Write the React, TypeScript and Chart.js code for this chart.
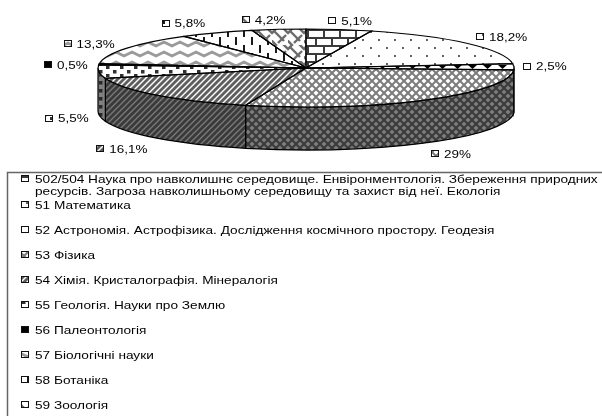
import React, { useEffect, useRef } from "react";
import { Chart, registerables } from "chart.js";

Chart.register(...registerables);

const categories = [
  "502/504 Наука про навколишнє середовище. Енвіронментологія. Збереження природних\nресурсів. Загроза навколишньому середовищу та захист від неї. Екологія",
  "51 Математика",
  "52 Астрономія. Астрофізика. Дослідження космічного простору. Геодезія",
  "53 Фізика",
  "54 Хімія. Кристалографія. Мінералогія",
  "55 Геологія. Науки про Землю",
  "56 Палеонтологія",
  "57 Біологічні науки",
  "58 Ботаніка",
  "59 Зоологія",
];
const shares = [5.1, 18.2, 2.5, 29, 16.1, 5.5, 0.5, 13.3, 5.8, 4.2];
const hatchKinds = ["brick", "dots", "tri", "diamond", "diag", "squares", "solid", "wave", "dash", "weave"];
const labelNudgeX = [11, 34, 31, 25, -35, -32, -33, -37, -33, -15];
const labelNudgeY = [-8.5, -6, 0, 11, 11, 4, 1, -4, -9, -9];

const SQUASH = 39 / 208;
const FACE_Y = 68;
const DEPTH = 43;
const FONT = '"Liberation Sans", Arial, sans-serif';

function tile(kind: string, fg: string, bg: string): HTMLCanvasElement {
  const sizes: Record<string, [number, number]> = {
    brick: [16, 16], dots: [16, 16], tri: [15, 20], diamond: [8, 8], diag: [6, 6],
    squares: [14, 8], solid: [4, 4], wave: [16, 10], dash: [16, 16], weave: [16, 16],
  };
  const [w, h] = sizes[kind];
  const c = document.createElement("canvas");
  c.width = w;
  c.height = h;
  const x = c.getContext("2d")!;
  x.fillStyle = bg;
  x.fillRect(0, 0, w, h);
  x.fillStyle = fg;
  x.strokeStyle = fg;
  const seg = (pts: number[][], lw: number) => {
    x.lineWidth = lw;
    x.beginPath();
    pts.forEach((p, i) => (i ? x.lineTo(p[0], p[1]) : x.moveTo(p[0], p[1])));
    x.stroke();
  };
  if (kind === "brick") {
    x.fillRect(0, 0, 16, 2);
    x.fillRect(0, 8, 16, 2);
    x.fillRect(3, 0, 2, 8);
    x.fillRect(11, 8, 2, 8);
  } else if (kind === "dots") {
    x.fillRect(2, 2, 2, 2);
    x.fillRect(10, 10, 2, 2);
  } else if (kind === "tri") {
    x.beginPath();
    x.moveTo(3, 16);
    x.lineTo(12, 16);
    x.lineTo(7.5, 20);
    x.closePath();
    x.fill();
  } else if (kind === "diamond") {
    seg([[-1, 9], [9, -1]], 2);
    seg([[-1, -1], [9, 9]], 2);
    seg([[3, 13], [13, 3]], 2);
    seg([[-5, 3], [3, -5]], 2);
    seg([[3, -5], [13, 5]], 2);
    seg([[-5, 3], [5, 13]], 2);
  } else if (kind === "diag") {
    seg([[-1, 7], [7, -1]], 2.8);
    seg([[-4, 4], [4, -4]], 2.8);
    seg([[2, 10], [10, 2]], 2.8);
  } else if (kind === "squares") {
    x.fillRect(1, 1, 3.5, 3.5);
    x.fillRect(8, 5, 3.5, 3);
  } else if (kind === "wave") {
    seg([[-4, 7], [0, 5], [4, 3], [8, 5], [12, 7], [16, 5], [20, 3]], 2.8);
  } else if (kind === "dash") {
    x.fillRect(3, 0, 2, 8);
    x.fillRect(11, 8, 2, 8);
  } else if (kind === "weave") {
    seg([[-2, 6], [6, -2]], 2.4);
    seg([[6, 14], [14, 6]], 2.4);
    seg([[2, 2], [12, 12]], 2.4);
    seg([[10, -2], [18, 6]], 2.4);
    seg([[-2, 10], [6, 18]], 2.4);
  }
  return c;
}

const faceInk: Record<string, [string, string]> = {
  brick: ["#3a3a3a", "#ffffff"], dots: ["#606060", "#ffffff"], tri: ["#000000", "#ffffff"],
  diamond: ["#7c7c7c", "#ffffff"], diag: ["#5e5e5e", "#ffffff"], squares: ["#303030", "#ffffff"],
  solid: ["#000000", "#000000"], wave: ["#9a9a9a", "#ffffff"], dash: ["#1a1a1a", "#ffffff"], weave: ["#6c6c6c", "#ffffff"],
};
const wallInk: Record<string, [string, string]> = {
  tri: ["#000000", "#808080"], diamond: ["#3a3a3a", "#7c7c7c"], diag: ["#3a3a3a", "#787878"],
  squares: ["#2a2a2a", "#808080"],
};

function drawStretched(ctx: CanvasRenderingContext2D, text: string, x: number, y: number, font: string, sx: number) {
  ctx.save();
  ctx.font = font;
  ctx.textBaseline = "middle";
  ctx.textAlign = "left";
  ctx.fillStyle = "#000000";
  ctx.translate(x, y);
  ctx.scale(sx, 1);
  ctx.fillText(text, 0, 0);
  ctx.restore();
}

function swatch(ctx: CanvasRenderingContext2D, kind: string, x: number, y: number, w: number, h: number) {
  const [fg, bg] = faceInk[kind];
  ctx.save();
  ctx.fillStyle = ctx.createPattern(tile(kind, fg, bg), "repeat")!;
  ctx.fillRect(x, y, w, h);
  ctx.strokeStyle = "#111";
  ctx.lineWidth = 1;
  ctx.strokeRect(x + 0.5, y + 0.5, w - 1, h - 1);
  ctx.restore();
}

const pie3d = {
  id: "pie3d",
  beforeDatasetsDraw(chart: any) {
    const ctx: CanvasRenderingContext2D = chart.ctx;
    const arcs = chart.getDatasetMeta(0).data;
    ctx.save();
    arcs.forEach((a: any, i: number) => {
      const s = Math.max(a.startAngle, 0);
      const e = Math.min(a.endAngle, Math.PI);
      if (s >= e) return;
      const rx = a.outerRadius;
      const ry = rx * SQUASH;
      const kind = hatchKinds[i];
      const [fg, bg] = wallInk[kind] || faceInk[kind];
      ctx.beginPath();
      ctx.ellipse(a.x, FACE_Y, rx, ry, 0, s, e);
      ctx.ellipse(a.x, FACE_Y + DEPTH, rx, ry, 0, e, s, true);
      ctx.closePath();
      ctx.fillStyle = ctx.createPattern(tile(kind, fg, bg), "repeat")!;
      ctx.fill();
      ctx.strokeStyle = "#000";
      ctx.lineWidth = 1.2;
      ctx.stroke();
    });
    ctx.restore();
    ctx.save();
    const cy = arcs[0].y;
    ctx.translate(0, FACE_Y);
    ctx.scale(1, SQUASH);
    ctx.translate(0, -cy);
  },
  afterDatasetsDraw(chart: any) {
    const ctx: CanvasRenderingContext2D = chart.ctx;
    ctx.restore();
    const arcs = chart.getDatasetMeta(0).data;
    ctx.save();
    ctx.strokeStyle = "#000";
    ctx.lineWidth = 1.2;
    arcs.forEach((a: any) => {
      const rx = a.outerRadius;
      ctx.beginPath();
      ctx.moveTo(a.x, FACE_Y);
      ctx.ellipse(a.x, FACE_Y, rx, rx * SQUASH, 0, a.startAngle, a.endAngle);
      ctx.closePath();
      ctx.stroke();
    });
    ctx.restore();

    arcs.forEach((a: any, i: number) => {
      const m = (a.startAngle + a.endAngle) / 2;
      const rx = a.outerRadius;
      const front = Math.sin(m) > 0 ? DEPTH : 0;
      const lx = a.x + Math.cos(m) * rx + labelNudgeX[i];
      const ly = FACE_Y + Math.sin(m) * rx * SQUASH + front + labelNudgeY[i];
      const text = String(shares[i]).replace(".", ",") + "%";
      const font = `11.5px ${FONT}`;
      ctx.font = font;
      const sx = 1.17;
      const tw = ctx.measureText(text).width * sx;
      const total = 8 + 5 + tw;
      const left = lx - total / 2;
      swatch(ctx, hatchKinds[i], Math.round(left), Math.round(ly - 4), 8, 7);
      drawStretched(ctx, text, left + 13, ly + 0.5, font, sx);
    });

    // legend box
    ctx.save();
    ctx.strokeStyle = "#666";
    ctx.lineWidth = 1.5;
    ctx.beginPath();
    ctx.moveTo(7.5, 416);
    ctx.lineTo(7.5, 172.5);
    ctx.lineTo(602, 172.5);
    ctx.stroke();
    ctx.restore();

    const font = `11px ${FONT}`;
    const lsx = 1.24;
    let y = 179;
    categories.forEach((cat, i) => {
      const lines = cat.split("\n");
      swatch(ctx, hatchKinds[i], 21, Math.round(y - 4), 8, 7);
      lines.forEach((ln, j) => {
        drawStretched(ctx, ln, 35, y + j * 12 + 0.5, font, lsx);
      });
      y = i === 0 ? 205 : y + 25;
    });
  },
};

export default function App() {
  const ref = useRef<HTMLCanvasElement>(null);
  useEffect(() => {
    const fill = hatchKinds.map((k) => {
      const [fg, bg] = faceInk[k];
      const ctx = ref.current!.getContext("2d")!;
      const p = ctx.createPattern(tile(k, fg, bg), "repeat")!;
      p.setTransform(new DOMMatrix().scale(1, 1 / SQUASH));
      return p;
    });
    const chart = new Chart(ref.current!, {
      type: "pie",
      data: {
        labels: categories,
        datasets: [{ data: shares, backgroundColor: fill as any, borderWidth: 0 }],
      },
      options: {
        animation: false,
        responsive: false,
        layout: { padding: { left: 10 } },
        plugins: { legend: { display: false }, tooltip: { enabled: false } },
      },
      plugins: [pie3d],
    });
    return () => chart.destroy();
  }, []);
  return (
    <canvas
      ref={ref}
      width={602}
      height={416}
      style={{ position: "absolute", left: 0, top: 0, display: "block", filter: "blur(0.35px)" }}
    />
  );
}
